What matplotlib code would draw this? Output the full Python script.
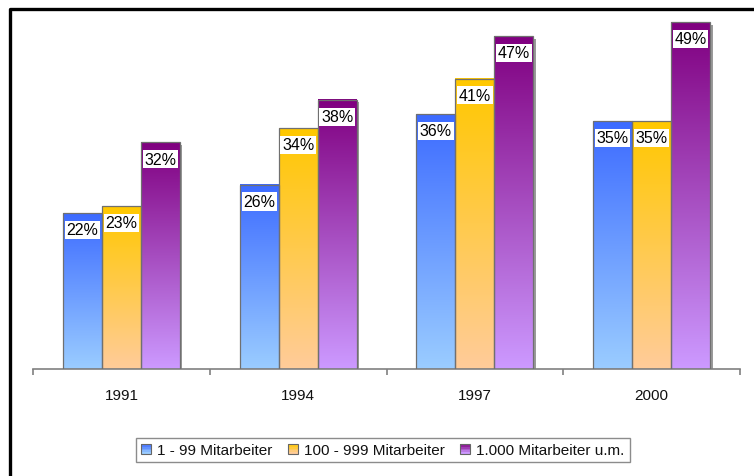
import numpy as np
import matplotlib.pyplot as plt
import matplotlib.transforms as mtransforms
from matplotlib.patches import Rectangle
from matplotlib.colors import to_rgb
from matplotlib.legend_handler import HandlerBase

plt.rcParams['font.family'] = ['Liberation Sans', 'DejaVu Sans']

years = ['1991', '1994', '1997', '2000']
series = ['1 - 99 Mitarbeiter', '100 - 999 Mitarbeiter', '1.000 Mitarbeiter u.m.']
small = [22, 26, 36, 35]
medium = [23, 34, 41, 35]
large = [32, 38, 47, 49]
values = [small, medium, large]

# top colour, bottom colour of each gradient
grads = [('#3D6BFF', '#9ACCFF'), ('#FFC800', '#FFCC99'), ('#800080', '#CC99FF')]


def gradient(top, bottom, n=64):
    t = np.linspace(0, 1, n)[:, None]
    a, b = np.array(to_rgb(top)), np.array(to_rgb(bottom))
    return (a * (1 - t) + b * t)[:, None, :]


class GradHandler(HandlerBase):
    def create_artists(self, legend, orig, xd, yd, w, h, fontsize, trans):
        top, bottom = orig.grad
        arts = []
        n = 6
        cols = gradient(top, bottom, n)
        for k in range(n):
            arts.append(Rectangle((-xd, -yd + h * (n - 1 - k) / n), w, h / n,
                                  facecolor=cols[k, 0], edgecolor='none', transform=trans))
        arts.append(Rectangle((-xd, -yd), w, h, facecolor='none',
                              edgecolor='#666666', lw=0.8, transform=trans))
        return arts


fig = plt.figure(figsize=(7.54, 4.77), dpi=100)
W, H = 754, 477
ax = fig.add_axes([33 / W, (H - 370) / H, (740 - 33) / W, (370 - 16) / H])

bw = 39 / 176.75
x = np.arange(len(years))
shadow_tr = mtransforms.offset_copy(ax.transData, fig=fig, x=2.5, y=-2.5, units='dots')

for i, (vals, (top, bottom)) in enumerate(zip(values, grads)):
    for j, v in enumerate(vals):
        x0 = x[j] + (i - 1) * bw - bw / 2
        ax.add_patch(Rectangle((x0, 0), bw, v, facecolor='#9a9a9a', edgecolor='none',
                               transform=shadow_tr, zorder=1))
        ax.imshow(gradient(top, bottom), extent=[x0, x0 + bw, 0, v], aspect='auto',
                  interpolation='bilinear', zorder=2)
        ax.add_patch(Rectangle((x0, 0), bw, v, facecolor='none', edgecolor='#707070',
                               lw=0.9, zorder=3))
        ax.annotate(f'{v}%', (x0 + bw / 2, v), xytext=(0, -12), textcoords='offset points',
                    ha='center', va='center', fontsize=11.5, color='black', zorder=4,
                    bbox=dict(boxstyle='square,pad=0.1', fc='white', ec='none'))

ax.set_xlim(-0.5, 3.5)
ax.set_ylim(0, 50)
for s in ['top', 'right', 'left']:
    ax.spines[s].set_visible(False)
ax.spines['bottom'].set_color('#808080')
ax.spines['bottom'].set_linewidth(1.2)
ax.set_yticks([])
ax.set_xticks(x)
ax.set_xticklabels(years, fontsize=11, color='#111111')
ax.tick_params(axis='x', which='major', length=0, pad=14)
ax.set_xticks(np.arange(-0.5, 4, 1), minor=True)
ax.tick_params(axis='x', which='minor', length=4, width=1.2, color='#808080')

handles = []
for (top, bottom) in grads:
    r = Rectangle((0, 0), 1, 1)
    r.grad = (top, bottom)
    handles.append(r)
leg = fig.legend(handles, series, loc='center', bbox_to_anchor=(383 / W, 1 - 451 / H),
                 ncol=3, fontsize=11, frameon=True, fancybox=False,
                 handlelength=0.65, handleheight=0.65, handletextpad=0.4,
                 columnspacing=1.0, borderpad=0.35,
                 handler_map={Rectangle: GradHandler()})
for t in leg.get_texts():
    t.set_color('#111111')
leg.get_frame().set_edgecolor('#707070')
leg.get_frame().set_linewidth(1.0)

# outer frame: only left and top edges are inside the picture
fig.add_artist(plt.Line2D([10 / W, 10 / W, 1.0], [0.0, 1 - 10 / H, 1 - 10 / H],
                          transform=fig.transFigure, color='black', lw=2.4))

fig.savefig('out.png', dpi=100)
